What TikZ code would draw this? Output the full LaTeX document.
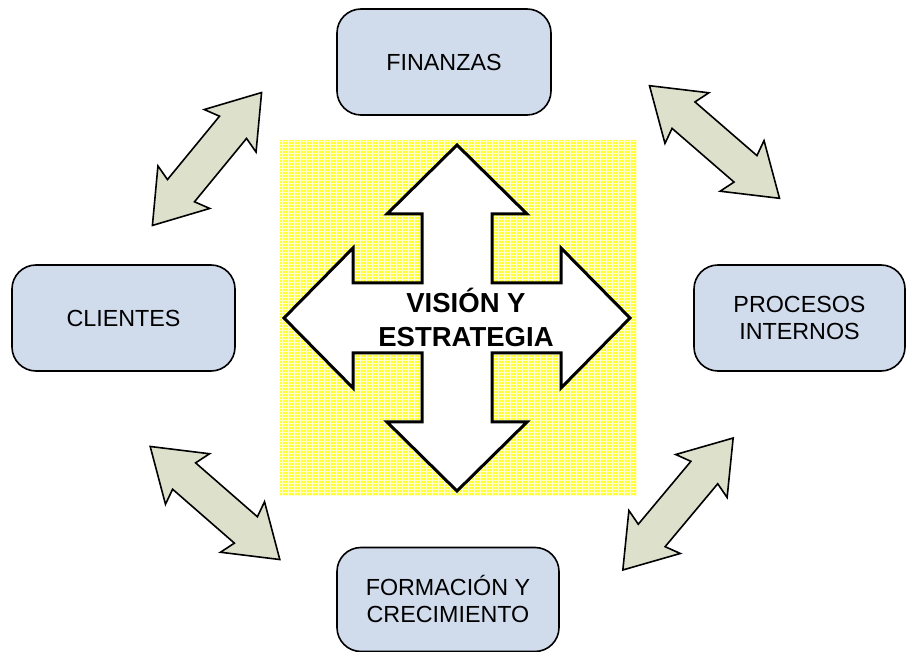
\documentclass[tikz,border=0pt]{standalone}
\usepackage{fontspec}
\setmainfont{Liberation Sans}
\usepackage{tikz}

\definecolor{boxblue}{RGB}{208,219,236}
\definecolor{arrowgreen}{RGB}{221,225,204}
\definecolor{gridyellow}{RGB}{255,255,50}
\definecolor{gridline}{RGB}{255,255,205}

\tikzset{
  persp/.style={shape=rectangle, rounded corners=24pt, draw=black, line width=1.6pt, fill=boxblue, align=center, font=\fontsize{23.3}{27}\selectfont, inner sep=0pt},
  twoway/.style={draw=black, line width=1.6pt, fill=arrowgreen, line join=miter},
}

\newcommand{\twowayarrow}[2]{%
  \draw[twoway, shift={#1}, rotate=#2] (86,0) -- (36.5,33.5) -- (41,17.5) -- (-41,17.5) -- (-36.5,33.5) -- (-86,0) -- (-36.5,-33.5) -- (-41,-17.5) -- (41,-17.5) -- (36.5,-33.5) -- cycle;}

\begin{document}
\begin{tikzpicture}[x=1pt, y=-1pt]
    \useasboundingbox (0,0) rectangle (906,652);
    % yellow square behind the cross
    \fill[gridyellow] (280,140) rectangle (636,496);
    \draw[gridline, line width=0.6pt, step=3pt] (280,140) grid (636,496);
    % four-way arrow
    \draw[line width=3pt, fill=white, line join=miter, shift={(457,318)}]
        (0,-173) -- (70,-104) -- (35,-104) -- (35,-35) -- (104,-35) -- (104,-70)
        -- (173,0) -- (104,70) -- (104,35) -- (35,35) -- (35,104) -- (70,104)
        -- (0,173) -- (-70,104) -- (-35,104) -- (-35,35) -- (-104,35) -- (-104,70)
        -- (-173,0) -- (-104,-70) -- (-104,-35) -- (-35,-35) -- (-35,-104) -- (-70,-104) -- cycle;
    \node[font=\bfseries\fontsize{27.5}{34}\selectfont, align=center] (V) at (466,317) {VISIÓN Y\\ESTRATEGIA};
    % perspectives
    \node[persp, minimum width=214pt, minimum height=106pt] (B1) at (444,62) {FINANZAS};
    \node[persp, minimum width=223pt, minimum height=106pt] (B2) at (123.5,318) {CLIENTES};
    \node[persp, minimum width=211pt, minimum height=106pt] (B3) at (799.5,318) {PROCESOS\\INTERNOS};
    \node[persp, minimum width=222pt, minimum height=104pt] (B4) at (448,599.5) {FORMACIÓN Y\\CRECIMIENTO};
    % double arrows
    \twowayarrow{(207,159)}{50.6}
    \twowayarrow{(714.5,142)}{-40.9}
    \twowayarrow{(215,503)}{-41.1}
    \twowayarrow{(678,504)}{50.1}
\end{tikzpicture}
\end{document}
